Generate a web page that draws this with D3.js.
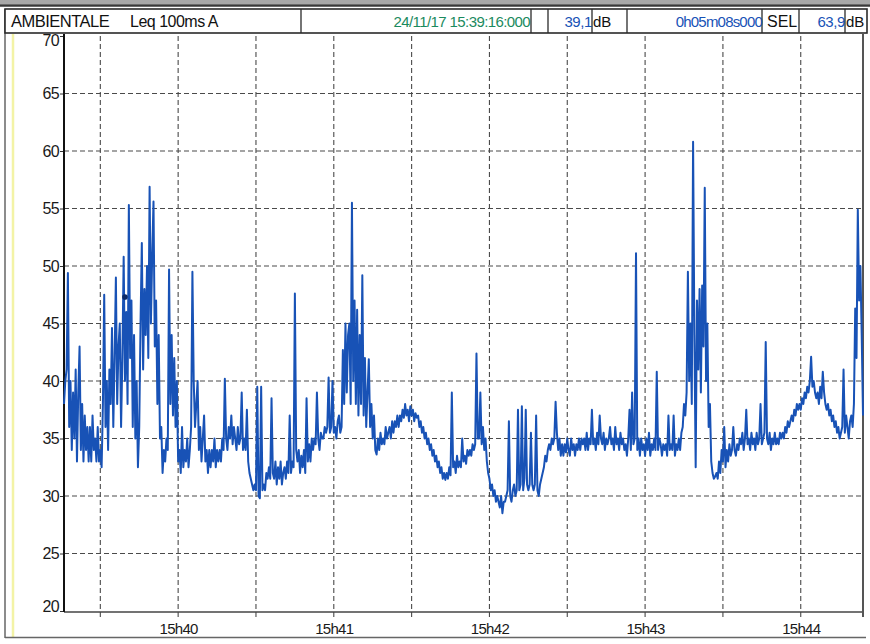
<!DOCTYPE html>
<html><head><meta charset="utf-8">
<script src="https://cdn.jsdelivr.net/npm/d3@7"></script>
<style>html,body{margin:0;padding:0;background:#fff}svg{display:block}text{font-family:"Liberation Sans",Arial,sans-serif}</style>
</head><body><svg id="c" width="870" height="644"></svg>
<script>
// ---- header texts ----
const headerTitle = "AMBIENTALE";
const headerParam = "Leq 100ms  A";
const startLabel = "24/11/17 15:39:16:000";
const leqValue = "39,1";
const durationLabel = "0h05m08s000";
const selValue = "63,9";

// ---- axes ----
const yTicks = [20, 25, 30, 35, 40, 45, 50, 55, 60, 65, 70];
const xTickLabels = ["15h40", "15h41", "15h42", "15h43", "15h44"];
const startTime = new Date(2017, 10, 24, 15, 39, 16);
const durationSec = 308;
const stepSec = 0.5;

// ---- Leq 100ms A level, dB, read every 0.5 s from 15:39:16 ----
const leq = [
 38,40,41,49.4,36,40,34,39,35,41,33,39,43,34,38,33,37,34,36,33,
 36,33,37,34,35,33,36,33,34,32.5,38,47.5,36,40,34,41,38,44.6,36,42,
 49,38,43,45,36,42,50.8,40,46,38,55.3,42,47,36,44,35,40,32.5,36,45,
 52,41,48,44,50,42,56.9,45,51,55.6,43,47,38,44,35,36,32,34,33,35,
 34,49.7,38,44,37,42,36,40,33,34,32,36,32.5,34,33,35,32.5,34,36,49.5,
 40,36,38,40,34,36,33,35,37,33,34,32,34,32.5,34,33,35,32.5,34,33,
 34,33,35,34,40.2,35,34,36,35,37,34.5,36,35,34,36,34.5,35,39,34,35,
 34,37.5,33,32,31.5,31,30.5,31,30.5,39.5,30,29.8,39.5,30.5,31,30.5,32,31.5,32.5,31.5,
 38.5,32,31.5,33,31,32.5,31.5,33,31,32,32.5,31.5,33,32,37,32,33,32.5,47.6,34,
 33,34,32,33.5,32.5,34,32,38.5,33,34.5,33,35,34,35,34.5,39,35,34,35.5,35,
 35,36,35.5,36,40.3,35.5,36,40,35.5,36,35,36.5,37,35.5,36,42.7,38,45,39,44,
 45,38,55.5,40,47,38,46.2,37,44,38,49.2,37,42,36,39,41.9,36,38,35,37,
 34,33.6,35,34,35.5,34.5,35,34.5,36,35,35.5,36,35,36.5,35.5,36.5,36,37,36,37,
 36.5,37.5,36.8,38,37,37.5,36.5,37.8,37,37.5,36.5,37.2,36.8,37,36,36.5,35.5,36,35,35.5,
 34.5,35,34,34.5,33.5,34,33,33.5,32.5,33,32,32.5,31.5,32,31.4,32,31.5,32.5,31.8,39,
 32.5,33,32,33.5,32.5,33,32.5,35,33,33.5,32.8,34,33.5,34,33.5,34.5,34,34.5,42.4,35,
 35,39,34.5,36,34,35,33,32,31.5,30.5,31,30,30.5,29.5,30,29.5,29,30,28.5,29.5,
 29.5,30,30.5,36.5,30,29.5,30.5,31,30,30.5,37.5,30.5,31,37.8,30.5,31.5,37.5,31,30.5,31,
 35.5,31,30.5,31,37,30.5,30,31,31.5,32,32.5,33.5,33,34,34.5,34,35,34.5,35,38.2,
 35.5,34,35,33.5,34.5,33.5,34.5,33.8,35,34,33.5,35,34,34.5,33.5,34.5,34,35,34,35,
 34.5,35,34,35.5,34,35,34.5,37.5,34.5,35,34,35.5,34.5,37,35,34.5,35.5,34,35,34.5,
 35,36,34.5,35,34,36,34.5,35,34,35.5,34.5,35,34,34.5,33.5,35,37.5,34,39,34.5,
 35,51.1,34,35,33.5,35,34,34.5,33.5,35,34,35.5,33.5,34.5,34,35,34,40.8,34,35,
 34.5,33.5,34.5,34,34.5,33.5,37,34,34.5,34,37,33.5,34.5,34,35,34,35.5,36,38,37,
 39,49.5,40,45,38,60.8,44,32.5,47,41,48,39,48.3,43,56.8,40,45,36,38,33,
 32,31.5,31.7,32,31.5,33,32,34,33,36,32.5,34,33,34.5,33.5,34,36,34,33.5,34.5,
 34,35,34.5,35.5,34,35,37.5,34.5,35,34,35.5,34.5,35,34,35.5,34.5,35,38,34.5,35,
 35.5,43.4,35,34.5,35.5,34,35,34.5,35.5,34.5,35,34.5,35.5,35,35.5,35,36,35.5,36.5,36,
 36.5,37,36.5,37.5,37,38,37.5,38,37.5,38.5,38,39,38.5,39.5,39,40,42.1,39.5,40,39,
 38.5,39,38,39.5,38.5,40.8,39,38,37.5,38,37,37.5,36.5,37,36,36.5,35.5,36,35,35.5,
 36,41,35.5,37,36,35,36.5,37,36,38,46.3,42,54.9,47,50,44,37
];
const cursorMark = {sec: 23.5, db: 47.3};

const svg = d3.select("#c");
const W = 870, H = 644;
const L = 64, R = 863, T = 36, B = 611;

const x = d3.scaleTime()
  .domain([startTime, d3.timeSecond.offset(startTime, durationSec)])
  .range([L, R]);
const y = d3.scaleLinear().domain([20, 70]).range([B, T]);

const blue = "#1852b6";
const gridCol = "#4a4a4a";

// page frame / scan artefacts
svg.append("rect").attr("x",0).attr("y",0).attr("width",W).attr("height",4).attr("fill","#a8a8a8");
svg.append("line").attr("x1",0).attr("x2",W).attr("y1",5.5).attr("y2",5.5).attr("stroke","#3a3a3a").attr("stroke-width",2.5);
svg.append("line").attr("x1",13).attr("x2",13).attr("y1",34).attr("y2",638).attr("stroke","#f3f3a6").attr("stroke-width",2.5);
svg.append("line").attr("x1",5).attr("x2",5).attr("y1",9).attr("y2",638).attr("stroke","#666").attr("stroke-width",1.5);
svg.append("line").attr("x1",5).attr("x2",866).attr("y1",637.5).attr("y2",637.5).attr("stroke","#666").attr("stroke-width",1.5);

// header
const hy0 = 9, hy1 = 33;
svg.append("rect").attr("x",5).attr("y",hy0).attr("width",862).attr("height",hy1-hy0)
  .attr("fill","#fff").attr("stroke","#2a2a2a").attr("stroke-width",1.6);
[301, 531, 548, 592, 627, 762, 799, 845].forEach(v =>
  svg.append("line").attr("x1",v).attr("x2",v).attr("y1",hy0).attr("y2",hy1).attr("stroke","#2a2a2a").attr("stroke-width",1.3));
const hb = 27;
svg.append("text").attr("x",11).attr("y",hb).attr("font-size",16.5).attr("letter-spacing",-0.5).attr("fill","#111").text(headerTitle);
svg.append("text").attr("x",130).attr("y",hb).attr("font-size",16).attr("letter-spacing",-0.5).attr("fill","#111").text(headerParam);
svg.append("text").attr("x",530).attr("y",hb).attr("text-anchor","end").attr("font-size",15).attr("letter-spacing",-0.6).attr("fill","#1b8a5e").text(startLabel);
svg.append("text").attr("x",592).attr("y",hb).attr("text-anchor","end").attr("font-size",15).attr("letter-spacing",-0.4).attr("fill",blue).text(leqValue);
svg.append("text").attr("x",593).attr("y",hb).attr("font-size",15).attr("fill","#111").text("dB");
svg.append("text").attr("x",762).attr("y",hb).attr("text-anchor","end").attr("font-size",15).attr("letter-spacing",-0.8).attr("fill",blue).text(durationLabel);
svg.append("text").attr("x",767).attr("y",hb).attr("font-size",16).attr("fill","#111").text("SEL");
svg.append("text").attr("x",845).attr("y",hb).attr("text-anchor","end").attr("font-size",15).attr("letter-spacing",-0.4).attr("fill",blue).text(selValue);
svg.append("text").attr("x",846).attr("y",hb).attr("font-size",15).attr("fill","#111").text("dB");

// grid
const g = svg.append("g");
yTicks.filter(v => v > 20 && v < 70).forEach(v =>
  g.append("line").attr("x1",L).attr("x2",R).attr("y1",y(v)).attr("y2",y(v))
   .attr("stroke",gridCol).attr("stroke-width",1.1).attr("stroke-dasharray","5,3"));
const xTicks = d3.timeSecond.every(30).range(startTime, d3.timeSecond.offset(startTime, durationSec));
xTicks.forEach(d =>
  g.append("line").attr("x1",x(d)).attr("x2",x(d)).attr("y1",T).attr("y2",B+9)
   .attr("stroke",gridCol).attr("stroke-width",1.1).attr("stroke-dasharray","5,3"));

// axes
const yAxis = d3.axisLeft(y).tickValues(yTicks).tickSize(4).tickPadding(1).tickFormat(d3.format("d"));
const ya = svg.append("g").attr("transform",`translate(${L},0)`).call(yAxis);
ya.select(".domain").remove();
ya.selectAll("text").attr("font-size",16).attr("fill","#1a1a1a").attr("letter-spacing",-0.7)
  .style("font-family","'Liberation Sans',Arial,sans-serif");
ya.selectAll("line").attr("stroke","#333");
ya.selectAll(".tick").filter(d => d === 70).select("text").attr("dy","0.6em");
ya.selectAll(".tick").filter(d => d === 20).select("text").attr("dy","0.05em");

const minuteTicks = xTicks.filter(d => d.getSeconds() === 0);
const xAxis = d3.axisBottom(x).tickValues(minuteTicks).tickSize(0).tickPadding(12)
  .tickFormat((d,i) => xTickLabels[i]);
const xa = svg.append("g").attr("transform",`translate(0,${B})`).call(xAxis);
xa.select(".domain").remove();
xa.selectAll("text").attr("font-size",15).attr("fill","#1a1a1a").attr("letter-spacing",-0.7)
  .style("font-family","'Liberation Sans',Arial,sans-serif");

svg.append("line").attr("x1",L).attr("x2",R).attr("y1",B+1).attr("y2",B+1).attr("stroke","#444").attr("stroke-width",1.5);
svg.append("line").attr("x1",L).attr("x2",L).attr("y1",T-2).attr("y2",B+1).attr("stroke","#111").attr("stroke-width",2);
svg.append("line").attr("x1",R).attr("x2",R).attr("y1",hy1).attr("y2",B+6).attr("stroke","#555").attr("stroke-width",2);

// trace
const pts = leq.map((v,i) => ({t: d3.timeMillisecond.offset(startTime, i*stepSec*1000), v}));
svg.append("path").datum(pts)
  .attr("fill","none").attr("stroke",blue).attr("stroke-width",2).attr("stroke-linejoin","round")
  .attr("d", d3.line().x(d => x(d.t)).y(d => y(d.v)));

svg.append("circle")
  .attr("cx", x(d3.timeMillisecond.offset(startTime, cursorMark.sec*1000)))
  .attr("cy", y(cursorMark.db)).attr("r",2.8).attr("fill","#0d2a66");
</script></body></html>
